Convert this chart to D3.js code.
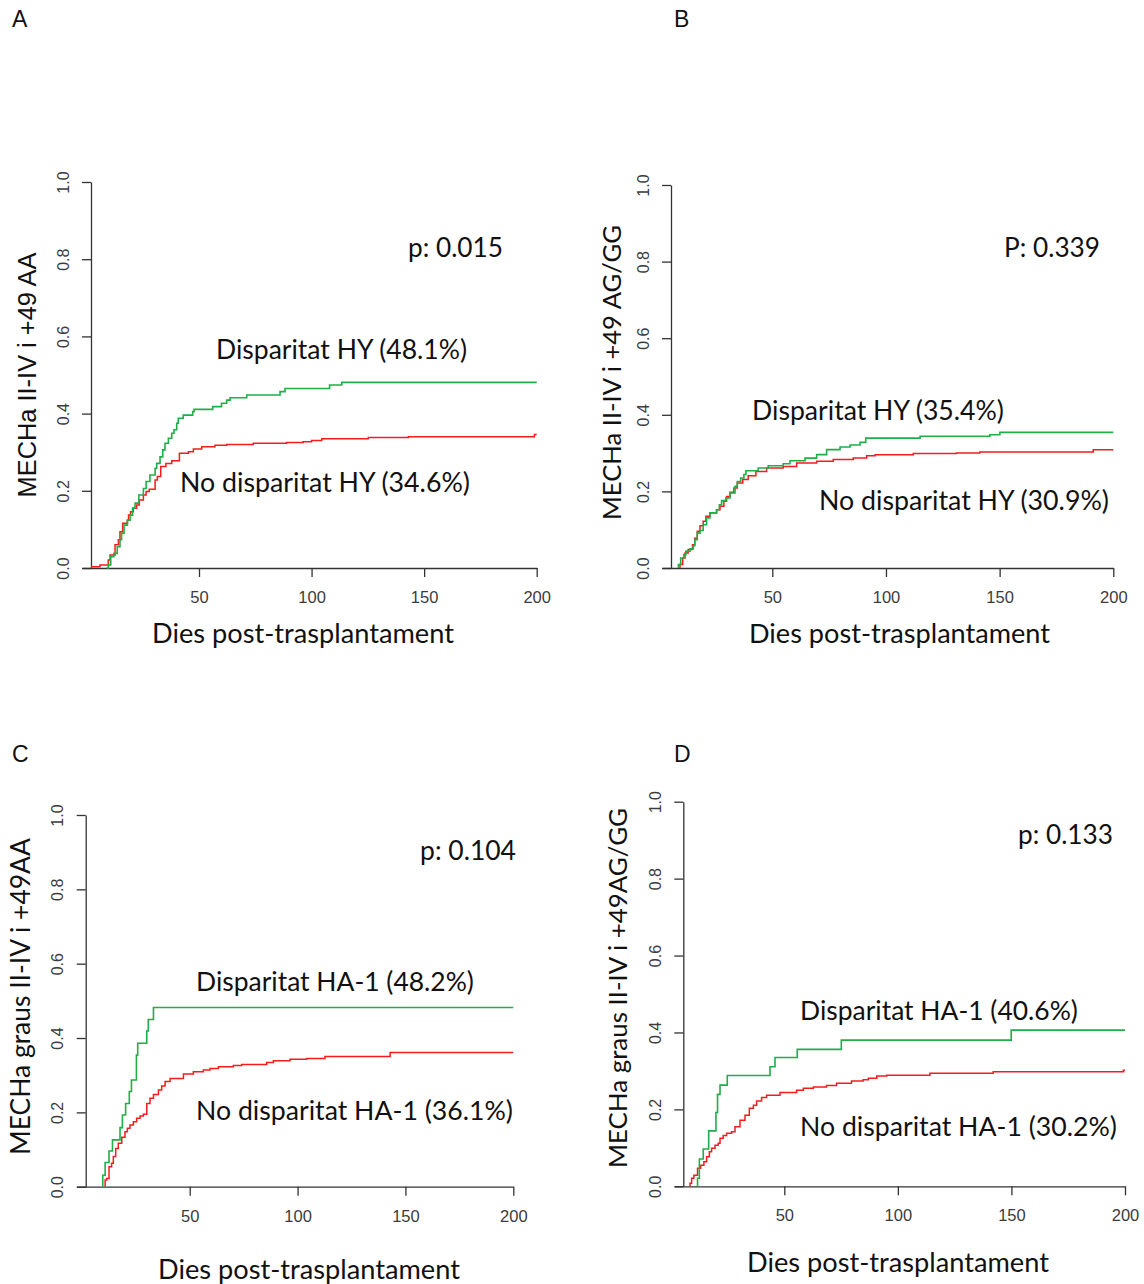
<!DOCTYPE html>
<html>
<head>
<meta charset="utf-8">
<script src="https://cdn.jsdelivr.net/npm/d3@7"></script>
<style>
  body { margin: 0; background: #fff; }
  svg { display: block; }
</style>
</head>
<body>
<svg id="fig" width="1144" height="1284"></svg>
<script>
// ---- Cumulative incidence of aGVHD II-IV (days post-transplant, step estimates) ----
const xTicks = [50, 100, 150, 200];
const yTicks = [0, 0.2, 0.4, 0.6, 0.8, 1.0];
const followUpEnd = 200;

// A: HY mismatch, +49 AA
const daysA_dis = [9, 9.7, 10.8, 12.2, 13.7, 14.9, 15.6, 16.7, 18.2, 19.4, 20.5, 21.6, 23.3, 25.3, 26.5, 28.2, 30.5, 31.2, 32.7, 33.9, 34.9, 36.4, 37.9, 38.9, 40.1, 40.8, 43, 47.2, 47.8, 56.1, 60, 62.3, 63.8, 71.2, 86, 88.2, 108, 113.4];
const cifA_dis  = [0, .008, .029, .038, .055, .073, .09, .111, .124, .137, .155, .168, .189, .206, .224, .241, .258, .271, .288, .306, .323, .336, .349, .358, .375, .388, .396, .405, .411, .418, .427, .435, .441, .448, .457, .465, .474, .481];
const daysA_no = [2, 6, 9.7, 10.5, 12.7, 14.2, 14.9, 16.1, 18.2, 18.7, 19.6, 20.8, 22.3, 23.5, 25.3, 26.5, 27.9, 30.5, 31.5, 33, 35.3, 37.9, 41.3, 45.3, 47.5, 51.2, 57.1, 62.3, 74.1, 88.9, 96.3, 100, 104.5, 125.2, 143, 199];
const cifA_no  = [.003, .008, .021, .034, .06, .073, .094, .116, .124, .137, .146, .155, .163, .176, .189, .198, .204, .228, .237, .263, .271, .278, .297, .301, .308, .314, .318, .32, .323, .325, .327, .33, .335, .338, .340, .346];

// B: HY mismatch, +49 AG/GG
const daysB_dis = [8.7, 8.7, 9.7, 11.1, 12, 13.8, 15.2, 15.9, 17, 18.2, 19.6, 21.1, 22.6, 25.5, 26.7, 27.7, 29.6, 31.4, 33.6, 34.6, 36.1, 37.5, 38.4, 43.8, 48.2, 54.8, 57.8, 64.4, 69.5, 73.9, 79.8, 84.2, 88.6, 91.1, 115, 145.7, 150.1];
const cifB_dis  = [0, .009, .026, .035, .044, .05, .058, .074, .091, .098, .113, .131, .144, .152, .165, .176, .183, .196, .213, .226, .235, .244, .254, .261, .267, .272, .28, .287, .296, .309, .316, .321, .328, .339, .344, .348, .354];
const daysB_no = [9.4, 9.4, 10.6, 11.6, 13, 14.9, 15.9, 17, 18.2, 19.6, 20.8, 22.6, 25.5, 27, 28.7, 29.9, 31.4, 33.1, 34.6, 37, 39.4, 42.8, 47.5, 54.8, 60.7, 69.5, 76.8, 85.6, 91.5, 95.2, 112, 131, 141.3, 191.2];
const cifB_no  = [0, .009, .026, .039, .048, .061, .078, .096, .11, .122, .135, .144, .152, .161, .174, .187, .198, .209, .222, .231, .241, .252, .261, .265, .274, .279, .283, .287, .293, .296, .299, .300, .303, .309];

// C: HA-1 mismatch, +49 AA
const daysC_dis = [9.7, 9.7, 10.8, 12.6, 14.2, 17.7, 18.8, 20.3, 22, 23, 25.3, 25.9, 30.1, 30.8, 33.2];
const cifC_dis  = [0, .031, .065, .096, .126, .159, .193, .224, .256, .287, .354, .386, .419, .45, .482];
const daysC_no = [10.8, 10.8, 11.5, 12.6, 13.8, 14.6, 15.7, 16.9, 18.5, 20, 21.1, 22.3, 23.9, 25.4, 27, 28.5, 30.1, 31.6, 33.2, 35.5, 37, 38.6, 40.9, 47.1, 51.7, 56.3, 59.4, 63.3, 70.2, 74.1, 85.7, 88.8, 96.5, 104.2, 112.7, 142.9];
const cifC_no  = [0, .018, .022, .054, .063, .081, .103, .117, .133, .148, .157, .166, .175, .184, .19, .195, .224, .238, .248, .26, .271, .283, .291, .303, .309, .314, .318, .323, .326, .329, .334, .339, .343, .345, .35, .361];

// D: HA-1 mismatch, +49 AG/GG
const daysD_dis = [11.8, 11.8, 12.6, 14.3, 16.7, 19.9, 20.6, 21.7, 24.9, 43.7, 45.9, 55.7, 75.1, 149.9];
const cifD_dis  = [0, .021, .071, .097, .144, .192, .239, .263, .288, .311, .335, .356, .38, .406];
const daysD_no = [8.5, 8.5, 9.2, 10.2, 11.8, 13.2, 14.6, 15.8, 17, 18, 19.5, 20.9, 21.7, 23.1, 24.6, 26.8, 28.3, 30.5, 32.7, 34.6, 36.4, 37.8, 40, 42.2, 48.1, 55.4, 58.4, 62.8, 68.6, 73, 79.6, 84.7, 87, 90.7, 95.1, 114.1, 142, 199.3];
const cifD_no  = [0, .008, .021, .029, .047, .055, .064, .077, .09, .099, .107, .112, .125, .132, .138, .142, .155, .172, .185, .203, .211, .222, .231, .237, .244, .25, .255, .258, .262, .268, .274, .277, .281, .287, .289, .294, .298, .302];

// Text drawn in each panel
const panelLetters = ["A", "B", "C", "D"];
const yTitles = ["MECHa II-IV i +49 AA", "MECHa II-IV i +49 AG/GG", "MECHa graus  II-IV i +49AA", "MECHa graus II-IV i +49AG/GG"];
const xTitle = "Dies post-trasplantament";
const pLabels = ["p: 0.015", "P: 0.339", "p: 0.104", "p: 0.133"];
const disLabels = ["Disparitat HY (48.1%)", "Disparitat HY (35.4%)", "Disparitat HA-1 (48.2%)", "Disparitat HA-1 (40.6%)"];
const noLabels = ["No disparitat HY (34.6%)", "No disparitat HY (30.9%)", "No disparitat HA-1 (36.1%)", "No disparitat HA-1 (30.2%)"];

const series = [
  { dis: [daysA_dis, cifA_dis], no: [daysA_no, cifA_no] },
  { dis: [daysB_dis, cifB_dis], no: [daysB_no, cifB_no] },
  { dis: [daysC_dis, cifC_dis], no: [daysC_no, cifC_no] },
  { dis: [daysD_dis, cifD_dis], no: [daysD_no, cifD_no] }
];

// ---- Layout of the four panels (pixels) ----
const layout = [
  { yAx: 91,    x50: 199,   x200: 536.7, yTop: 182,   yBot: 568,
    letter: [12, 19], yT: [27, 375, 245, "Liberation Sans"], xT: [303, 632, 302],
    p: [455.5, 247, 95], dis: [341.5, 349, 251], no: [325, 482, 290] },
  { yAx: 671,   x50: 772.3, x200: 1113.3, yTop: 185,  yBot: 568,
    letter: [674, 19], yT: [611, 372.5, 295, "Lato"], xT: [899.5, 632, 301],
    p: [1052, 247, 96], dis: [878, 410, 252], no: [964, 500, 290] },
  { yAx: 85.7,  x50: 189.7, x200: 513.3, yTop: 815,   yBot: 1186.7,
    letter: [12, 754], yT: [20, 996.5, 317, "Lato"], xT: [309, 1268, 302],
    p: [468, 850, 96], dis: [335, 981, 278], no: [354.5, 1110, 317] },
  { yAx: 683.3, x50: 784.3, x200: 1125,  yTop: 801.7, yBot: 1186.3,
    letter: [674, 754], yT: [617, 988, 360, "Lato"], xT: [898, 1261, 302],
    p: [1065.5, 834, 95], dis: [939, 1010, 278], no: [958.5, 1126, 317] }
];

const GREEN = "#1fae48";
const RED = "#f41c1c";
const TICK_LEN = 9;
const TICK_FONT = "'Liberation Sans', Arial, sans-serif";
const TEXT_FONT = "Lato, 'Open Sans', sans-serif";

const svg = d3.select("#fig");

// Sets a text's font size so that it spans the given width.
function fitWidth(sel, width) {
  const base = 24;
  sel.attr("font-size", base);
  const len = sel.node().getComputedTextLength();
  sel.attr("font-size", base * width / len);
  return sel;
}

function label(g, str, pos, family, rotate) {
  const t = g.append("text")
    .attr("text-anchor", "middle")
    .attr("dominant-baseline", "central")
    .attr("font-family", family || TEXT_FONT)
    .attr("fill", "#111")
    .text(str);
  fitWidth(t, pos[2]);
  t.attr("transform", `translate(${pos[0]},${pos[1]})` + (rotate ? " rotate(-90)" : ""));
  return t;
}

layout.forEach((L, i) => {
  const g = svg.append("g");

  // x scale: calibrated on the 50..200 ticks, axis line starts one tick length left of the y axis
  const base = d3.scaleLinear().domain([50, 200]).range([L.x50, L.x200]);
  const xStart = L.yAx - TICK_LEN;
  const x = d3.scaleLinear().domain([base.invert(xStart), 200]).range([xStart, L.x200]);
  const y = d3.scaleLinear().domain([0, 1]).range([L.yBot, L.yTop]);

  // x axis
  const gx = g.append("g")
    .attr("transform", `translate(0,${L.yBot})`)
    .call(d3.axisBottom(x).tickValues(xTicks).tickSize(TICK_LEN).tickSizeOuter(0));
  gx.select(".domain").attr("stroke", "#333").attr("stroke-width", 1.3);
  gx.selectAll(".tick line").attr("stroke", "#333").attr("stroke-width", 1.3);
  gx.selectAll(".tick text")
    .attr("font-family", TICK_FONT)
    .attr("font-size", 16.5).attr("fill", "#3c3c3c")
    .attr("y", 29).attr("dy", null)
    .attr("dominant-baseline", "central");

  // y axis
  const gy = g.append("g")
    .attr("transform", `translate(${L.yAx},0)`)
    .call(d3.axisLeft(y).tickValues(yTicks).tickFormat(d3.format(".1f")).tickSize(TICK_LEN).tickSizeOuter(0));
  gy.select(".domain").attr("stroke", "#333").attr("stroke-width", 1.3);
  gy.selectAll(".tick line").attr("stroke", "#333").attr("stroke-width", 1.3);
  gy.selectAll(".tick text")
    .attr("font-family", TICK_FONT)
    .attr("font-size", 16).attr("fill", "#3c3c3c")
    .attr("x", null).attr("dy", null)
    .attr("text-anchor", "middle").attr("dominant-baseline", "central")
    .attr("transform", "translate(-28,0) rotate(-90)");

  // step curves
  const line = d3.line()
    .x(d => x(d[0])).y(d => y(d[1]))
    .curve(d3.curveStepAfter);

  const toPoints = ([days, cif]) => {
    const pts = days.map((d, k) => [d, cif[k]]);
    pts.push([followUpEnd, cif[cif.length - 1]]);
    return pts;
  };

  g.append("path").datum(toPoints(series[i].no))
    .attr("d", line).attr("fill", "none")
    .attr("stroke", RED).attr("stroke-width", 1.5);
  g.append("path").datum(toPoints(series[i].dis))
    .attr("d", line).attr("fill", "none")
    .attr("stroke", GREEN).attr("stroke-width", 1.6);

  // texts
  g.append("text")
    .attr("x", L.letter[0]).attr("y", L.letter[1])
    .attr("dominant-baseline", "central")
    .attr("font-family", TICK_FONT)
    .attr("font-size", 23).attr("fill", "#111")
    .text(panelLetters[i]);

  label(g, yTitles[i], L.yT, L.yT[3] === "Lato" ? TEXT_FONT : TICK_FONT, true);
  label(g, xTitle, L.xT);
  label(g, pLabels[i], L.p);
  label(g, disLabels[i], L.dis);
  label(g, noLabels[i], L.no);
});
</script>
</body>
</html>
